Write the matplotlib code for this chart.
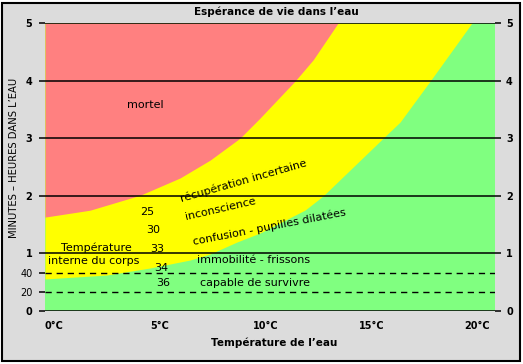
import matplotlib
matplotlib.use('Agg')
import matplotlib.pyplot as plt
from matplotlib.patches import Rectangle

# limite rouge / jaune (zone mortelle)
temp_rouge = [-0.43, 1.70, 4.07, 5.96, 7.38, 8.79, 9.74, 11.39, 12.25, 13.43]
heures_rouge = [1.63, 1.75, 2.01, 2.31, 2.62, 3.0, 3.35, 3.99, 4.36, 5.0]

# limite jaune / vert (capable de survivre)
temp_vert = [-0.43, 2.51, 4.54, 6.43, 7.38, 8.65, 9.74, 11.87, 12.72, 15.56, 16.36, 17.78, 19.76]
heures_vert = [0.556, 0.625, 0.747, 0.885, 0.99, 1.198, 1.354, 1.753, 1.997, 3.0, 3.28, 3.99, 5.0]

y_ticks = [0, 1/3, 2/3, 1, 2, 3, 4, 5]
y_labels = ['0', '20', '40', '1', '2', '3', '4', '5']
y_ticks_droite = [0, 1, 2, 3, 4, 5]
x_ticks = [0, 5, 10, 15, 20]
x_labels = ['0°C', '5°C', '10°C', '15°C', '20°C']

# annotations : texte, temperature, heures, rotation
zones = [('mortel', 4.30, 3.58, 0),
         ('récupération incertaine', 8.94, 2.26, 16),
         ('inconscience', 7.85, 1.77, 13),
         ('confusion - pupilles dilatées', 10.17, 1.46, 11),
         ('immobilité - frissons', 9.43, 0.885, 0),
         ('capable de survivre', 9.50, 0.486, 0)]
temp_corps = ['25', '30', '33', '34', '36']
temp_corps_x = [4.40, 4.68, 4.87, 5.06, 5.15]
temp_corps_y = [1.72, 1.41, 1.085, 0.755, 0.486]

W, H = 523, 364
fig = plt.figure(figsize=(W / 100, H / 100), dpi=100)
fig.patch.set_facecolor('white')
cadre = Rectangle((2 / W, 3 / H), 518 / W, 358 / H, transform=fig.transFigure,
                  facecolor='#dcdcdc', edgecolor='black', linewidth=1.5, zorder=-1)
fig.patches.append(cadre)

ax = fig.add_axes([45 / W, 53 / H, 450 / W, 288 / H])
ax.set_facecolor('#80ff80')
ax.set_xlim(-0.43, 20.85)
ax.set_ylim(0, 5)

ax.fill_between(temp_vert, heures_vert, 5, color='#ffff00', lw=0)
ax.fill_between(temp_rouge, heures_rouge, 5, color='#ff8080', lw=0)

for h in [0, 1, 2, 3, 4, 5]:
    ax.axhline(h, color='black', lw=1.1, zorder=3)
for h in [1/3, 2/3]:
    ax.axhline(h, color='black', lw=1, ls=(0, (4.5, 3.5)), zorder=3)

for s in ax.spines.values():
    s.set_visible(False)

ax.set_yticks(y_ticks)
ax.set_yticklabels(y_labels)
ax.tick_params(axis='y', length=4, width=1.1, pad=5, labelsize=7)
for lab in ax.get_yticklabels():
    if lab.get_text() in ('20', '40'):
        lab.set_fontweight('normal')
    else:
        lab.set_fontweight('bold')

ax.set_xticks(x_ticks)
ax.set_xticklabels(x_labels, fontweight='bold', fontsize=7)
ax.tick_params(axis='x', length=0, pad=7)

ax2 = ax.twinx()
ax2.set_ylim(0, 5)
ax2.set_yticks(y_ticks_droite)
ax2.set_yticklabels([str(t) for t in y_ticks_droite], fontweight='bold', fontsize=7)
ax2.tick_params(axis='y', length=4, width=1.1, pad=4)
for s in ax2.spines.values():
    s.set_visible(False)

for txt, x, y, rot in zones:
    ax.text(x, y, txt, fontsize=8, rotation=rot, ha='center', va='center',
            rotation_mode='anchor', zorder=4)
for txt, x, y in zip(temp_corps, temp_corps_x, temp_corps_y):
    ax.text(x, y, txt, fontsize=8, ha='center', va='center', zorder=4)
ax.text(1.99, 1.09, 'Température', fontsize=8, ha='center', va='center', zorder=4)
ax.text(1.89, 0.87, 'interne du corps', fontsize=8, ha='center', va='center', zorder=4)

fig.text(276 / W, 1 - 12 / H, 'Espérance de vie dans l’eau', fontsize=7.5,
         fontweight='bold', ha='center', va='center')
fig.text(274 / W, 1 - 343 / H, 'Température de l’eau', fontsize=7.5,
         fontweight='bold', ha='center', va='center')
fig.text(14 / W, 1 - 158 / H, 'MINUTES – HEURES DANS L’EAU', fontsize=7.2,
         rotation=90, ha='center', va='center')

fig.savefig('out.png', dpi=100)
